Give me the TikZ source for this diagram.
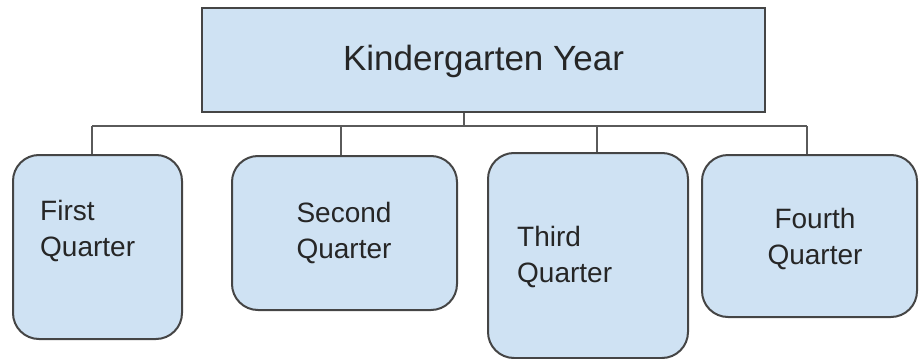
\documentclass[tikz,border=0pt]{standalone}
\usepackage{fontspec}
\setmainfont{Liberation Sans}
\usepackage{tikz}
\usetikzlibrary{positioning}
\definecolor{box blue}{HTML}{CFE2F3}
\definecolor{box line}{HTML}{454545}
\definecolor{link gray}{HTML}{5A5A5A}
\tikzset{
    % Boxes
    year box/.style={draw=box line,line width=2pt,fill=box blue,inner sep=0pt},
    quarter box/.style={year box,rounded corners=26pt},
    %
    % Texts
    year text/.style={font=\fontsize{35}{42}\selectfont,text=black!85},
    quarter text/.style={font=\fontsize{28}{36}\selectfont,text=black!85,inner sep=0pt},
    %
    % Connectors
    link/.style={draw=link gray,line width=1.6pt}
}

\begin{document}
\begin{tikzpicture}[x=1pt,y=-1pt]
        \useasboundingbox (0,0) rectangle (919,359);

        \node[year box,minimum width=563pt,minimum height=104pt] (year) at (483.5,60) {};
        \node[year text] (year text) at (483.5,61) {Kindergarten Year};

        \node[quarter box,minimum width=169pt,minimum height=184pt] (q1) at (97.5,247) {};
        \node[quarter box,minimum width=225pt,minimum height=154pt] (q2) at (344.5,233) {};
        \node[quarter box,minimum width=200pt,minimum height=205pt] (q3) at (588,255.5) {};
        \node[quarter box,minimum width=215pt,minimum height=162pt] (q4) at (809.5,236) {};

        \node[quarter text,align=left,anchor=west] (q1 text) at (40,230.5) {First\\Quarter};
        \node[quarter text,align=center] (q2 text) at (344,232.5) {Second\\Quarter};
        \node[quarter text,align=left,anchor=west] (q3 text) at (517,256.5) {Third\\Quarter};
        \node[quarter text,align=center] (q4 text) at (815,238.5) {Fourth\\Quarter};

        % bus under the year box
        \coordinate (stem) at (464,126);
        \coordinate (bus left) at (92,126);
        \coordinate (bus right) at (807,126);
        \draw[link] (year.south -| stem) -- (stem);
        \draw[link] (bus left) -- (bus right);
        \draw[link] (bus left) -- (bus left |- q1.north);
        \draw[link] (341,126) -- (341,0 |- q2.north);
        \draw[link] (597,126) -- (597,0 |- q3.north);
        \draw[link] (bus right) -- (bus right |- q4.north);
    \end{tikzpicture}
\end{document}
